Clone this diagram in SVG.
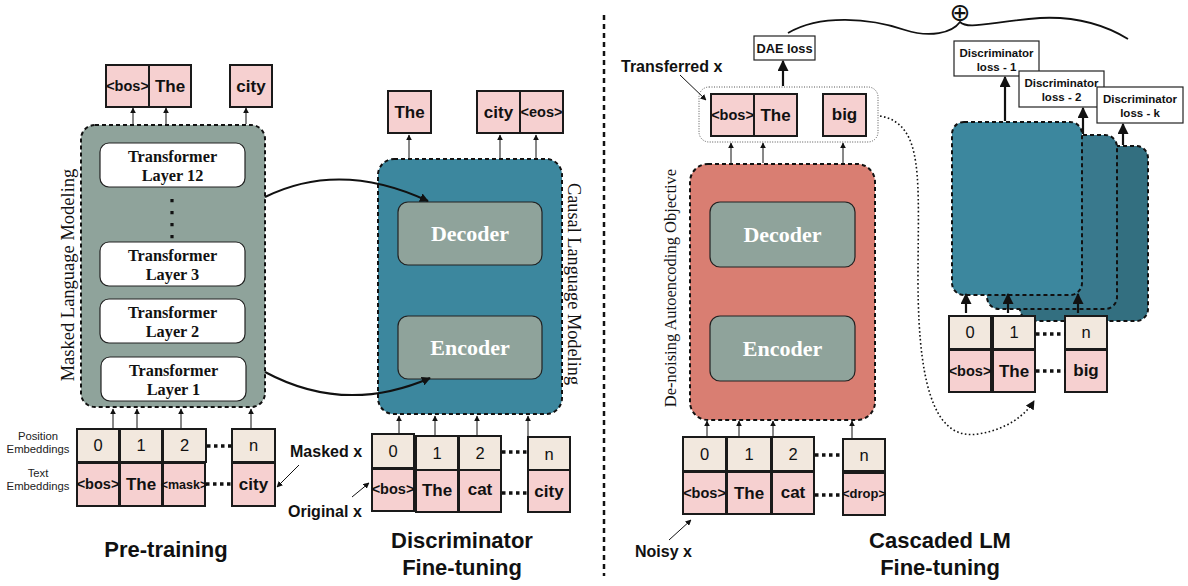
<svg xmlns="http://www.w3.org/2000/svg" width="1188" height="586" viewBox="0 0 1188 586">
<defs>
<marker id="ah" viewBox="0 0 10 10" refX="9" refY="5" markerWidth="6" markerHeight="6" orient="auto" markerUnits="userSpaceOnUse"><path d="M0,0 L10,5 L0,10 z" fill="#111"/></marker>
<marker id="ahm" viewBox="0 0 10 10" refX="9" refY="5" markerWidth="9" markerHeight="9" orient="auto" markerUnits="userSpaceOnUse"><path d="M0,0 L10,5 L0,10 z" fill="#111"/></marker>
<marker id="ahb" viewBox="0 0 10 10" refX="9" refY="5" markerWidth="11" markerHeight="11" orient="auto" markerUnits="userSpaceOnUse"><path d="M0,0 L10,5 L0,10 z" fill="#111"/></marker>
<style>
.tok{fill:#f6d0d0;stroke:#1a1a1a;stroke-width:2}
.pos{fill:#f2e8de;stroke:#1a1a1a;stroke-width:2}
.tt{font-family:"Liberation Sans",Arial,sans-serif;font-weight:bold;font-size:17px;text-anchor:middle;fill:#111}
.ts{font-family:"Liberation Sans",Arial,sans-serif;font-weight:bold;font-size:14.5px;text-anchor:middle;fill:#111}
.tp{font-family:"Liberation Sans",Arial,sans-serif;font-size:16.5px;text-anchor:middle;fill:#111}
.lab{font-family:"Liberation Sans",Arial,sans-serif;font-weight:bold;font-size:16px;fill:#111}
.title{font-family:"Liberation Sans",Arial,sans-serif;font-weight:bold;font-size:22px;text-anchor:middle;fill:#111}
.small{font-family:"Liberation Sans",Arial,sans-serif;font-size:11.3px;text-anchor:middle;fill:#222}
.layer{fill:#fff;stroke:#222;stroke-width:1.2}
.lt{font-family:"Liberation Serif","Times New Roman",serif;font-weight:bold;font-size:16.3px;text-anchor:middle;fill:#111}
.inner{fill:#8fa39b;stroke:#222;stroke-width:1.2}
.it{font-family:"Liberation Serif","Times New Roman",serif;font-weight:bold;font-size:22px;text-anchor:middle;fill:#fff}
.cont{stroke:#111;stroke-width:2;stroke-dasharray:4 3}
.side{font-family:"Liberation Serif","Times New Roman",serif;font-size:18.5px;text-anchor:middle;fill:#111}
.arr{stroke:#111;stroke-width:1;fill:none;marker-end:url(#ah)}
.arrb{stroke:#111;stroke-width:2.2;fill:none;marker-end:url(#ahb)}
.dots{stroke:#111;stroke-width:3.5;stroke-dasharray:3.5 3.5;fill:none}
.loss{fill:#fff;stroke:#222;stroke-width:1.2}
.lossT{font-family:"Liberation Sans",Arial,sans-serif;font-weight:bold;font-size:11.5px;text-anchor:middle;fill:#111}
</style>
</defs>
<rect width="1188" height="586" fill="#fff"/>

<!-- divider -->
<line x1="604" y1="15" x2="604" y2="576" stroke="#111" stroke-width="2.5" stroke-dasharray="5 4"/>

<!-- ===== Pre-training ===== -->
<g id="mlm-container">
<rect x="81" y="125" width="184" height="282" rx="14" fill="#8fa39b" class="cont"/>
<text class="side" transform="translate(74,275) rotate(-90)">Masked Language Modeling</text>
</g>
<g id="layer12"><rect class="layer" x="100" y="143" width="145" height="44" rx="9"/><text class="lt" x="172.5" y="162">Transformer</text><text class="lt" x="172.5" y="181">Layer 12</text></g>
<line x1="172" y1="199" x2="172" y2="240" stroke="#111" stroke-width="3.2" stroke-dasharray="3.2 8.8"/>
<g id="layer3"><rect class="layer" x="100" y="242" width="145" height="44" rx="9"/><text class="lt" x="172.5" y="261">Transformer</text><text class="lt" x="172.5" y="280">Layer 3</text></g>
<g id="layer2"><rect class="layer" x="100" y="299" width="145" height="44" rx="9"/><text class="lt" x="172.5" y="318">Transformer</text><text class="lt" x="172.5" y="337">Layer 2</text></g>
<g id="layer1"><rect class="layer" x="101" y="357" width="145" height="44" rx="9"/><text class="lt" x="173.5" y="376">Transformer</text><text class="lt" x="173.5" y="395">Layer 1</text></g>

<g id="pt-out">
<rect class="tok" x="106" y="65" width="43" height="42"/><text class="ts" x="127.5" y="91">&lt;bos&gt;</text>
<rect class="tok" x="149" y="65" width="42" height="42"/><text class="tt" x="170" y="92">The</text>
<rect class="tok" x="230" y="65" width="42" height="42"/><text class="tt" x="251" y="92">city</text>
</g>
<g id="pt-in">
<text class="small" x="38" y="440">Position</text><text class="small" x="38" y="453">Embeddings</text>
<text class="small" x="38" y="477">Text</text><text class="small" x="38" y="490">Embeddings</text>
<rect class="pos" x="77" y="429" width="42" height="33"/><text class="tp" x="98" y="451">0</text>
<rect class="pos" x="120" y="429" width="42" height="33"/><text class="tp" x="141" y="451">1</text>
<rect class="pos" x="163" y="429" width="43" height="33"/><text class="tp" x="184.5" y="451">2</text>
<rect class="pos" x="232" y="429" width="43" height="33"/><text class="tp" x="253.5" y="451">n</text>
<rect class="tok" x="77" y="463" width="42" height="43"/><text class="ts" x="98" y="489">&lt;bos&gt;</text>
<rect class="tok" x="120" y="463" width="42" height="43"/><text class="tt" x="141" y="490">The</text>
<rect class="tok" x="163" y="463" width="42" height="43"/><text class="ts" x="184" y="489" style="font-size:12.5px">&lt;mask&gt;</text>
<rect class="tok" x="232" y="463" width="43" height="43"/><text class="tt" x="253.5" y="490">city</text>
</g>
<text class="title" x="166" y="557">Pre-training</text>

<!-- ===== Discriminator Fine-tuning ===== -->
<g id="clm-container">
<rect x="378" y="159" width="184" height="255" rx="16" fill="#3c879e" class="cont"/>
<text class="side" transform="translate(568,284) rotate(90)" style="font-size:18.3px">Causal Language Modeling</text>
</g>
<g id="decoder-1"><rect class="inner" x="398" y="202" width="144" height="63" rx="10"/><text class="it" x="470" y="241">Decoder</text></g>
<g id="encoder-1"><rect class="inner" x="398" y="316" width="144" height="63" rx="10"/><text class="it" x="470" y="355">Encoder</text></g>
<g id="df-out">
<rect class="tok" x="388" y="91" width="43" height="42"/><text class="tt" x="409.5" y="118">The</text>
<rect class="tok" x="477" y="91" width="43" height="42"/><text class="tt" x="498.5" y="118">city</text>
<rect class="tok" x="520" y="91" width="43" height="42"/><text class="ts" x="541.5" y="117">&lt;eos&gt;</text>
</g>
<g id="df-in">
<rect class="pos" x="372" y="434" width="42" height="34"/><text class="tp" x="393" y="457">0</text>
<rect class="pos" x="416" y="436" width="42" height="34"/><text class="tp" x="437" y="459">1</text>
<rect class="pos" x="459" y="436" width="42" height="34"/><text class="tp" x="480" y="459">2</text>
<rect class="pos" x="528" y="437" width="42" height="33"/><text class="tp" x="549" y="460">n</text>
<rect class="tok" x="372" y="469" width="42" height="42"/><text class="ts" x="393" y="494">&lt;bos&gt;</text>
<rect class="tok" x="416" y="470" width="42" height="42"/><text class="tt" x="437" y="496">The</text>
<rect class="tok" x="459" y="470" width="42" height="42"/><text class="tt" x="480" y="495">cat</text>
<rect class="tok" x="528" y="470" width="42" height="42"/><text class="tt" x="549" y="497">city</text>
</g>
<text class="lab" x="290" y="457">Masked x</text>
<text class="lab" x="288" y="517">Original x</text>
<text class="title" x="462" y="548">Discriminator</text>
<text class="title" x="462" y="575">Fine-tuning</text>

<!-- ===== Cascaded LM Fine-tuning ===== -->
<g id="dae-container">
<rect x="690" y="164" width="185" height="256" rx="18" fill="#d97e72" class="cont"/>
<text class="side" transform="translate(676,288) rotate(-90)" style="font-size:16.5px">De-noising Autoencoding Objective</text>
</g>
<g id="decoder-2"><rect class="inner" x="710" y="202" width="145" height="65" rx="10"/><text class="it" x="782.5" y="242">Decoder</text></g>
<g id="encoder-2"><rect class="inner" x="710" y="316" width="145" height="65" rx="10"/><text class="it" x="782.5" y="356">Encoder</text></g>

<g id="transferred">
<rect x="699" y="87" width="179" height="55" rx="10" fill="#fff" stroke="#555" stroke-width="1" stroke-dasharray="1 1.5"/>
<rect class="tok" x="711" y="94" width="43" height="42"/><text class="ts" x="732.5" y="120">&lt;bos&gt;</text>
<rect class="tok" x="754" y="94" width="43" height="42"/><text class="tt" x="775.5" y="121">The</text>
<rect class="tok" x="823" y="94" width="43" height="42"/><text class="tt" x="844.5" y="120">big</text>
</g>
<text class="lab" x="621" y="72">Transferred x</text>
<g id="dae-loss"><rect class="loss" x="754" y="36" width="61" height="24"/><text class="lossT" x="784.5" y="53" style="font-size:12.8px">DAE loss</text></g>

<g id="cl-in">
<rect class="pos" x="683" y="437" width="43" height="34"/><text class="tp" x="704.5" y="460">0</text>
<rect class="pos" x="727" y="437" width="44" height="34"/><text class="tp" x="749" y="460">1</text>
<rect class="pos" x="772" y="437" width="42" height="34"/><text class="tp" x="793" y="460">2</text>
<rect class="pos" x="843" y="439" width="42" height="32"/><text class="tp" x="864" y="461">n</text>
<rect class="tok" x="683" y="472" width="43" height="42"/><text class="ts" x="704.5" y="498">&lt;bos&gt;</text>
<rect class="tok" x="727" y="472" width="44" height="42"/><text class="tt" x="749" y="499">The</text>
<rect class="tok" x="772" y="472" width="42" height="42"/><text class="tt" x="793" y="498">cat</text>
<rect class="tok" x="843" y="473" width="42" height="42"/><text class="ts" x="864" y="498" style="font-size:13px">&lt;drop&gt;</text>
</g>
<text class="lab" x="635" y="557">Noisy x</text>
<text class="title" x="940" y="548">Cascaded LM</text>
<text class="title" x="940" y="575">Fine-tuning</text>

<!-- discriminator stack -->
<g id="disc-k"><rect x="1020" y="146" width="128" height="175" rx="12" fill="#336f80" class="cont"/></g>
<g id="disc-2"><rect x="987" y="135" width="130" height="174" rx="12" fill="#39798d" class="cont"/></g>
<g id="disc-1"><rect x="952" y="122" width="130" height="173" rx="12" fill="#3c879e" class="cont"/></g>

<g id="loss-1"><rect class="loss" x="954" y="41" width="85" height="35"/><text class="lossT" x="996.5" y="57">Discriminator</text><text class="lossT" x="996.5" y="71">loss - 1</text></g>
<g id="loss-2"><rect class="loss" x="1019" y="71" width="85" height="36"/><text class="lossT" x="1061.5" y="87">Discriminator</text><text class="lossT" x="1061.5" y="101">loss - 2</text></g>
<g id="loss-k"><rect class="loss" x="1097" y="87" width="86" height="36"/><text class="lossT" x="1140" y="103">Discriminator</text><text class="lossT" x="1140" y="117">loss - k</text></g>

<g id="disc-in">
<rect class="pos" x="949" y="316" width="42" height="33"/><text class="tp" x="970" y="338">0</text>
<rect class="pos" x="993" y="316" width="42" height="33"/><text class="tp" x="1014" y="338">1</text>
<rect class="pos" x="1065" y="316" width="42" height="33"/><text class="tp" x="1086" y="338">n</text>
<rect class="tok" x="949" y="350" width="42" height="42"/><text class="ts" x="970" y="376">&lt;bos&gt;</text>
<rect class="tok" x="993" y="350" width="42" height="42"/><text class="tt" x="1014" y="377">The</text>
<rect class="tok" x="1065" y="350" width="42" height="42"/><text class="tt" x="1086" y="376">big</text>
</g>

<text x="960" y="21" text-anchor="middle" style="font-family:'DejaVu Sans',sans-serif;font-size:25px" fill="#111">⊕</text>

<!-- ===== connectors ===== -->
<g id="connectors">
<!-- pretraining -->
<line class="arr" x1="133" y1="124" x2="133" y2="108"/>
<line class="arr" x1="166" y1="124" x2="166" y2="108"/>
<line class="arr" x1="246" y1="124" x2="246" y2="108"/>
<line class="arr" x1="113" y1="428" x2="113" y2="409"/>
<line class="arr" x1="137" y1="428" x2="137" y2="409"/>
<line class="arr" x1="181" y1="428" x2="181" y2="409"/>
<line class="arr" x1="251" y1="428" x2="251" y2="409"/>
<line class="dots" x1="207" y1="446" x2="232" y2="446"/>
<line class="dots" x1="206" y1="484" x2="232" y2="484"/>
<!-- transfer curves -->
<path d="M265 197 Q340 160 428 201" stroke="#111" stroke-width="2" fill="none" marker-end="url(#ahm)"/>
<path d="M265 372 Q345 415 430 378" stroke="#111" stroke-width="2" fill="none" marker-end="url(#ahm)"/>
<!-- discriminator FT -->
<line class="arr" x1="409" y1="158" x2="409" y2="135"/>
<line class="arr" x1="500" y1="158" x2="500" y2="135"/>
<line class="arr" x1="536" y1="158" x2="536" y2="135"/>
<line class="arr" x1="399" y1="433" x2="399" y2="416"/>
<line class="arr" x1="435" y1="435" x2="435" y2="416"/>
<line class="arr" x1="477" y1="435" x2="477" y2="416"/>
<line class="arr" x1="528" y1="436" x2="528" y2="416"/>
<line class="dots" x1="502" y1="452" x2="528" y2="452"/>
<line class="dots" x1="502" y1="493" x2="528" y2="493"/>
<line class="arr" x1="299" y1="465" x2="277" y2="487"/>
<line class="arr" x1="352" y1="497" x2="369" y2="483"/>
<!-- cascaded -->
<line class="arr" x1="731" y1="163" x2="731" y2="143"/>
<line class="arr" x1="763" y1="163" x2="763" y2="143"/>
<line class="arr" x1="843" y1="163" x2="843" y2="143"/>
<line class="arr" x1="707" y1="436" x2="707" y2="421"/>
<line class="arr" x1="739" y1="436" x2="739" y2="421"/>
<line class="arr" x1="773" y1="436" x2="773" y2="421"/>
<line class="arr" x1="852" y1="438" x2="852" y2="421"/>
<line class="dots" x1="815" y1="455" x2="843" y2="455"/>
<line class="dots" x1="815" y1="495" x2="843" y2="495"/>
<line class="arr" x1="680" y1="75" x2="706" y2="100"/>
<line class="arr" x1="669" y1="540" x2="691" y2="520"/>
<line class="arrb" x1="783" y1="86" x2="783" y2="61"/>
<!-- discriminator stack -->
<line class="arrb" x1="1005" y1="121" x2="1005" y2="77"/>
<line class="arrb" x1="1083" y1="134" x2="1083" y2="108"/>
<line class="arrb" x1="1123" y1="145" x2="1123" y2="124"/>
<line class="arrb" x1="966" y1="313" x2="966" y2="294"/>
<line class="arrb" x1="1008" y1="313" x2="1008" y2="294"/>
<line class="arrb" x1="1078" y1="313" x2="1078" y2="294"/>
<line class="dots" x1="1036" y1="334" x2="1065" y2="334"/>
<line class="dots" x1="1036" y1="371" x2="1065" y2="371"/>
<!-- dotted feedback curve -->
<path d="M880 116 C925 124 918 180 918 280 C918 400 940 440 978 434 C1005 430 1025 416 1034 401" stroke="#111" stroke-width="1.6" stroke-dasharray="1.6 2.4" fill="none" marker-end="url(#ahm)"/>
<!-- aggregation brace -->
<path d="M788 33 C820 14 870 18 905 30 C930 38 952 33 960 22 C968 30 990 22 1040 18 C1080 16 1110 28 1128 39" stroke="#111" stroke-width="1.8" fill="none"/>
</g>
</svg>
